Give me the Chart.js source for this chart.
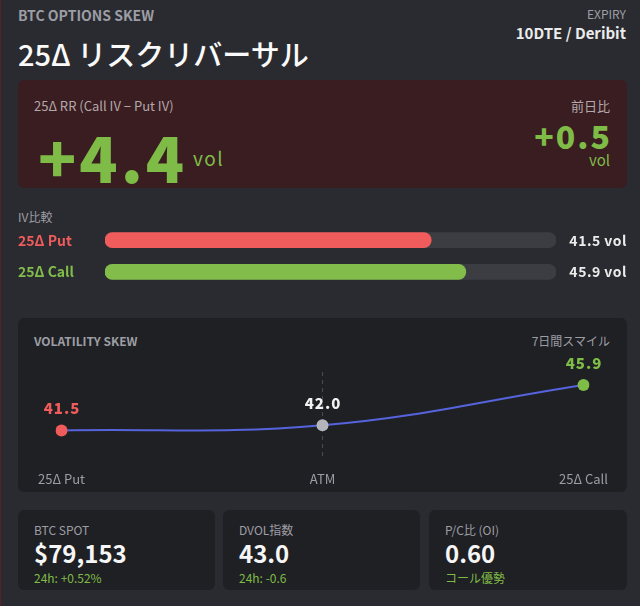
<!DOCTYPE html>
<html>
<head>
<meta charset="utf-8">
<script src="https://cdn.jsdelivr.net/npm/chart.js@4.4.1/dist/chart.umd.min.js"></script>
<style>
  html, body { margin: 0; padding: 0; }
  body {
    width: 640px; height: 606px; overflow: hidden; position: relative;
    background: #2a2b30; font-family: "Noto Sans CJK JP", "Noto Sans", sans-serif;
    border-left: 1px solid #5c1f22; box-sizing: border-box;
  }
  .t { position: absolute; white-space: nowrap; }
  .gray { color: #9d9ea5; }
  .green { color: #7fbb47; }
  .box { position: absolute; border-radius: 6px; }
</style>
</head>
<body>
<div class="t gray" style="left:17px;top:5px;font-size:14px;font-weight:700;line-height:20px;">BTC OPTIONS SKEW</div>
<div class="t gray" style="right:14px;top:4px;font-size:12px;line-height:20px;">EXPIRY</div>
<div class="t" style="right:14px;top:23px;font-size:15px;font-weight:700;line-height:20px;color:#ececec;">10DTE / Deribit</div>
<div class="t" style="left:17px;top:36px;font-size:29px;font-weight:500;line-height:34px;color:#fafafa;">25Δ リスクリバーサル</div>

<div class="box" style="left:17px;top:80px;width:609px;height:108px;background:#3a1d21;"></div>
<div class="t" style="left:33px;top:96px;font-size:13px;line-height:20px;color:#b3a8aa;">25Δ RR (Call IV − Put IV)</div>
<div class="t" style="right:30px;top:96px;font-size:13px;line-height:20px;color:#b3a8aa;">前日比</div>
<div class="t green" style="left:37px;top:118px;font-size:63px;font-weight:900;line-height:76px;letter-spacing:3px;">+4.4</div>
<div class="t green" style="left:192px;top:146px;font-size:19px;line-height:24px;letter-spacing:1.5px;">vol</div>
<div class="t green" style="right:28px;top:114px;font-size:32px;font-weight:900;line-height:42px;letter-spacing:2px;">+0.5</div>
<div class="t green" style="right:30px;top:150px;font-size:15px;line-height:20px;">vol</div>

<div class="t gray" style="left:17px;top:207px;font-size:12px;line-height:20px;">IV比較</div>
<div style="position:absolute;left:17px;top:216px;width:609px;height:80px;"><canvas id="ivChart"></canvas></div>

<div class="box" style="left:17px;top:318px;width:609px;height:174px;background:#1f2024;"></div>
<div class="t gray" style="left:33px;top:331px;font-size:12px;font-weight:700;line-height:20px;">VOLATILITY SKEW</div>
<div class="t gray" style="right:30px;top:331px;font-size:12px;line-height:20px;">7日間スマイル</div>
<div style="position:absolute;left:17px;top:350px;width:609px;height:155px;"><canvas id="skewChart"></canvas></div>

<div class="box" style="left:17px;top:510px;width:197px;height:80px;background:#1f2024;"></div>
<div class="box" style="left:222px;top:510px;width:197px;height:80px;background:#1f2024;"></div>
<div class="box" style="left:428px;top:510px;width:198px;height:80px;background:#1f2024;"></div>
<div id="cards"></div>

<script>
// values
const skewLabels = ['25Δ Put', 'ATM', '25Δ Call'];
const skewIV = [41.5, 42.0, 45.9];
const skewColors = ['#f05b5b', '#b4b5bb', '#7fbb47'];

const ivLabels = ['25Δ Put', '25Δ Call'];
const ivValues = [41.5, 45.9];
const ivColors = ['#f05b5b', '#82bc4a'];

const cardLabels = ['BTC SPOT', 'DVOL指数', 'P/C比 (OI)'];
const cardValues = ['$79,153', '43.0', '0.60'];
const cardSubs = ['24h: +0.52%', '24h: -0.6', 'コール優勢'];
const cardLeft = [33, 238, 444];

const FONT = '"Noto Sans CJK JP", "Noto Sans", sans-serif';

// bottom stat cards
const cards = document.getElementById('cards');
cardLabels.forEach((lab, i) => {
  cards.insertAdjacentHTML('beforeend',
    '<div class="t gray" style="left:' + cardLeft[i] + 'px;top:520px;font-size:12px;line-height:20px;">' + lab + '</div>' +
    '<div class="t" style="left:' + cardLeft[i] + 'px;top:538px;font-size:24px;font-weight:700;line-height:30px;color:#f6f6f6;">' + cardValues[i] + '</div>' +
    '<div class="t green" style="left:' + cardLeft[i] + 'px;top:568px;font-size:12px;line-height:20px;">' + cardSubs[i] + '</div>');
});

// IV comparison bars
const ivMax = Math.max(...ivValues) * 1.25;
const ivValueLabels = {
  id: 'ivValueLabels',
  afterDatasetsDraw(chart) {
    const { ctx } = chart;
    const meta = chart.getDatasetMeta(0);
    ctx.save();
    ctx.font = '700 14px ' + FONT;
    ctx.letterSpacing = '0.5px';
    ctx.fillStyle = '#ececec';
    ctx.textAlign = 'right';
    ctx.textBaseline = 'middle';
    meta.data.forEach((bar, i) => ctx.fillText(ivValues[i].toFixed(1) + ' vol', chart.width, bar.y));
    ctx.restore();
  }
};

new Chart(document.getElementById('ivChart'), {
  type: 'bar',
  data: {
    labels: ivLabels,
    datasets: [
      { data: ivValues, backgroundColor: ivColors, order: 0 },
      { data: ivLabels.map(() => ivMax), backgroundColor: '#3c3d43', order: 1 }
    ]
  },
  options: {
    indexAxis: 'y',
    responsive: true,
    maintainAspectRatio: false,
    animation: false,
    layout: { padding: { right: 71 } },
    datasets: { bar: { grouped: false, barThickness: 15, borderRadius: 8, borderSkipped: false } },
    plugins: { legend: { display: false }, tooltip: { enabled: false } },
    scales: {
      x: { display: false, min: 0, max: ivMax },
      y: {
        border: { display: false },
        grid: { display: false },
        afterFit: s => { s.width = 87; },
        ticks: {
          crossAlign: 'far', padding: 0,
          color: c => ivColors[c.index],
          font: { family: FONT, size: 14, weight: '700' }
        }
      }
    }
  },
  plugins: [ivValueLabels]
});

// volatility skew line
const pointValueLabels = {
  id: 'pointValueLabels',
  afterDatasetsDraw(chart) {
    const { ctx } = chart;
    const meta = chart.getDatasetMeta(0);
    ctx.save();
    ctx.font = '900 15px ' + FONT;
    ctx.letterSpacing = '1px';
    ctx.textAlign = 'center';
    ctx.textBaseline = 'middle';
    meta.data.forEach((pt, i) => {
      ctx.fillStyle = i === 1 ? '#f2f2f2' : skewColors[i];
      ctx.fillText(skewIV[i].toFixed(1), pt.x + 0.5, pt.y - 22);
    });
    ctx.restore();
  }
};

new Chart(document.getElementById('skewChart'), {
  type: 'line',
  data: {
    labels: skewLabels,
    datasets: [{
      data: skewIV,
      borderColor: '#5563dc',
      borderWidth: 2,
      tension: 0.4,
      pointRadius: 6,
      pointBorderWidth: 0,
      pointBackgroundColor: skewColors
    }]
  },
  options: {
    responsive: true,
    maintainAspectRatio: false,
    animation: false,
    layout: { padding: { left: 43.5, right: 43.5, top: 22, bottom: 6 } },
    plugins: { legend: { display: false }, tooltip: { enabled: false } },
    scales: {
      y: { display: false, min: 38.7, max: 47.15 },
      x: {
        offset: false,
        border: { display: false, dash: [4, 4] },
        grid: {
          drawTicks: false,
          color: c => c.index === 1 ? '#4a4b51' : 'transparent'
        },
        ticks: {
          padding: 12, maxRotation: 0, autoSkip: false,
          color: '#9d9ea5',
          font: { family: FONT, size: 13 }
        }
      }
    }
  },
  plugins: [pointValueLabels]
});
</script>
</body>
</html>
